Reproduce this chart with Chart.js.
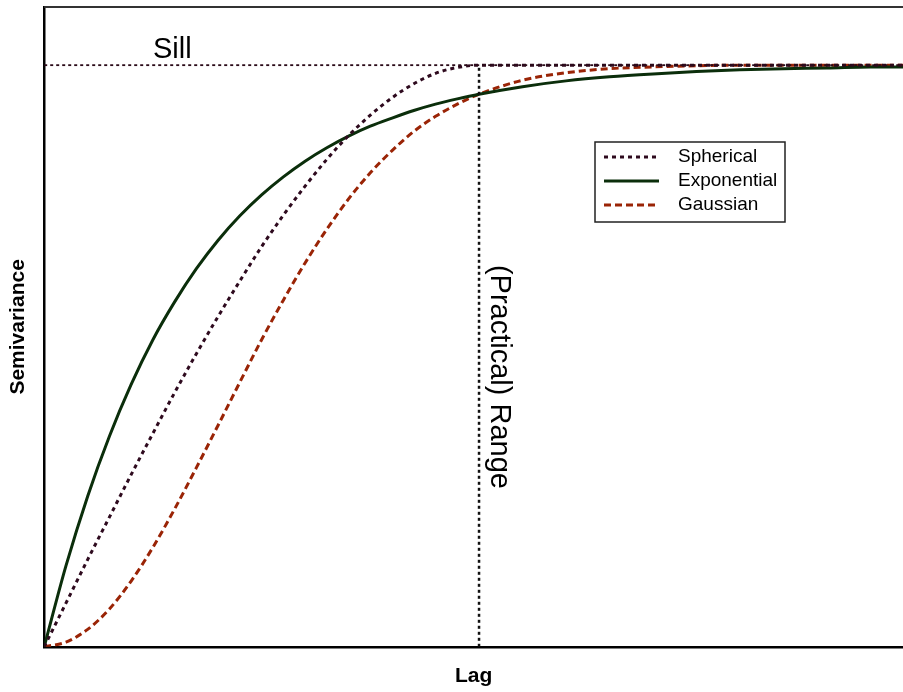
<!DOCTYPE html>
<html>
<head>
<meta charset="utf-8">
<title>Semivariogram models</title>
<script src="https://cdn.jsdelivr.net/npm/chart.js@4/dist/chart.umd.min.js"></script>
<style>
  html, body { margin: 0; padding: 0; background: #fff; }
  canvas { display: block; }
</style>
</head>
<body>
<canvas id="variogramChart" width="903" height="692"></canvas>
<script>
// Lag in units of the (practical) range, semivariance in units of the sill
const lags = [0, 0.05, 0.1, 0.15, 0.2, 0.25, 0.3, 0.35, 0.4, 0.45, 0.5, 0.55, 0.6, 0.65, 0.7,
  0.75, 0.8, 0.85, 0.9, 0.95, 1.0, 1.1, 1.2, 1.3, 1.4, 1.5, 1.6, 1.7, 1.8, 1.9, 1.975];

const spherical = [0, 0.075, 0.15, 0.223, 0.296, 0.367, 0.437, 0.504, 0.568, 0.629, 0.688,
  0.742, 0.792, 0.838, 0.879, 0.914, 0.944, 0.968, 0.986, 0.996, 1.0,
  1.0, 1.0, 1.0, 1.0, 1.0, 1.0, 1.0, 1.0, 1.0, 1.0];

const exponential = [0, 0.139, 0.259, 0.362, 0.451, 0.528, 0.593, 0.65, 0.699, 0.741, 0.777,
  0.808, 0.835, 0.858, 0.878, 0.895, 0.909, 0.922, 0.933, 0.942, 0.95,
  0.963, 0.973, 0.98, 0.985, 0.989, 0.992, 0.994, 0.995, 0.997, 0.997];

const gaussian = [0, 0.008, 0.03, 0.065, 0.113, 0.171, 0.237, 0.308, 0.381, 0.455, 0.528,
  0.596, 0.66, 0.718, 0.77, 0.815, 0.853, 0.886, 0.912, 0.933, 0.95,
  0.974, 0.987, 0.994, 0.997, 0.999, 1.0, 1.0, 1.0, 1.0, 1.0];

const sill = 1;
const practicalRange = 1;
const lagMax = 1.975;
const semivarMax = 1.1;

function toPoints(values) {
    return lags.map((x, i) => ({ x: x, y: values[i] }));
}

const FONT = "'Liberation Sans', Arial, sans-serif";

// top frame, annotations and the legend inside the plot
const annotationsPlugin = {
    id: 'annotations',
    afterDatasetsDraw(chart) {
        const ctx = chart.ctx;
        const area = chart.chartArea;
        const xs = chart.scales.x;
        const ys = chart.scales.y;

        ctx.save();
        ctx.strokeStyle = '#333';
        ctx.lineWidth = 2;
        ctx.beginPath();
        ctx.moveTo(area.left, area.top);
        ctx.lineTo(area.right, area.top);
        ctx.stroke();

        // "Sill"
        ctx.fillStyle = '#000';
        ctx.font = '29px ' + FONT;
        ctx.textBaseline = 'alphabetic';
        ctx.textAlign = 'left';
        ctx.fillText('Sill', xs.getPixelForValue(0.25), ys.getPixelForValue(sill) - 7);

        // "(Practical) Range", vertical
        ctx.save();
        ctx.translate(xs.getPixelForValue(practicalRange) + 20, ys.getPixelForValue(0.464));
        ctx.rotate(Math.PI / 2);
        ctx.textAlign = 'center';
        ctx.textBaseline = 'middle';
        ctx.fillText('(Practical) Range', 0, 0);
        ctx.restore();

        // legend
        const boxX = 595, boxY = 142, boxW = 190, boxH = 80;
        ctx.fillStyle = '#fff';
        ctx.fillRect(boxX, boxY, boxW, boxH);
        ctx.strokeStyle = '#222';
        ctx.lineWidth = 1.5;
        ctx.strokeRect(boxX, boxY, boxW, boxH);

        const shown = chart.data.datasets.filter(ds => ds.inLegend);
        shown.forEach((ds, i) => {
            const y = boxY + 15 + i * 24;
            ctx.strokeStyle = ds.borderColor;
            ctx.lineWidth = ds.borderWidth;
            ctx.setLineDash(ds.borderDash || []);
            ctx.beginPath();
            ctx.moveTo(boxX + 9, y);
            ctx.lineTo(boxX + 64, y);
            ctx.stroke();
            ctx.setLineDash([]);
            ctx.fillStyle = '#000';
            ctx.font = '19px ' + FONT;
            ctx.textAlign = 'left';
            ctx.textBaseline = 'middle';
            ctx.fillText(ds.label, boxX + 83, y);
        });
        ctx.restore();
    }
};

const ctxVariogram = document.getElementById('variogramChart').getContext('2d');
new Chart(ctxVariogram, {
    type: 'scatter',
    data: {
        datasets: [
            {
                label: 'Sill line',
                data: [{ x: 0, y: sill }, { x: lagMax, y: sill }],
                showLine: true,
                borderColor: '#2a0a18',
                borderWidth: 1.8,
                borderDash: [3, 3],
                pointRadius: 0,
                inLegend: false
            },
            {
                label: 'Range line',
                data: [{ x: practicalRange, y: 0 }, { x: practicalRange, y: sill }],
                showLine: true,
                borderColor: '#111',
                borderWidth: 2.5,
                borderDash: [3, 3],
                pointRadius: 0,
                inLegend: false
            },
            {
                label: 'Spherical',
                data: toPoints(spherical),
                showLine: true,
                borderColor: '#2e0a1e',
                borderWidth: 3,
                borderDash: [4, 4],
                pointRadius: 0,
                cubicInterpolationMode: 'monotone',
                inLegend: true
            },
            {
                label: 'Exponential',
                data: toPoints(exponential),
                showLine: true,
                borderColor: '#0b2e0b',
                borderWidth: 3,
                pointRadius: 0,
                cubicInterpolationMode: 'monotone',
                inLegend: true
            },
            {
                label: 'Gaussian',
                data: toPoints(gaussian),
                showLine: true,
                borderColor: '#9a2406',
                borderWidth: 3,
                borderDash: [7, 4],
                pointRadius: 0,
                cubicInterpolationMode: 'monotone',
                inLegend: true
            }
        ]
    },
    options: {
        responsive: false,
        animation: false,
        layout: { padding: { top: 7, right: 0, bottom: 0, left: 0 } },
        scales: {
            x: {
                type: 'linear',
                min: 0,
                max: lagMax,
                ticks: { display: false },
                grid: { display: false, drawTicks: false },
                border: { display: true, color: '#000', width: 2.5 },
                title: {
                    display: true,
                    text: 'Lag',
                    color: '#000',
                    font: { family: FONT, size: 21, weight: 'bold' },
                    padding: { top: 17, bottom: 3 }
                }
            },
            y: {
                type: 'linear',
                min: 0,
                max: semivarMax,
                ticks: { display: false },
                grid: { display: false, drawTicks: false },
                border: { display: true, color: '#000', width: 2.5 },
                title: {
                    display: true,
                    text: 'Semivariance',
                    color: '#000',
                    font: { family: FONT, size: 21, weight: 'bold' },
                    padding: { top: 6, bottom: 13 }
                }
            }
        },
        plugins: {
            legend: { display: false },
            tooltip: { enabled: false }
        }
    },
    plugins: [annotationsPlugin]
});
</script>
</body>
</html>
